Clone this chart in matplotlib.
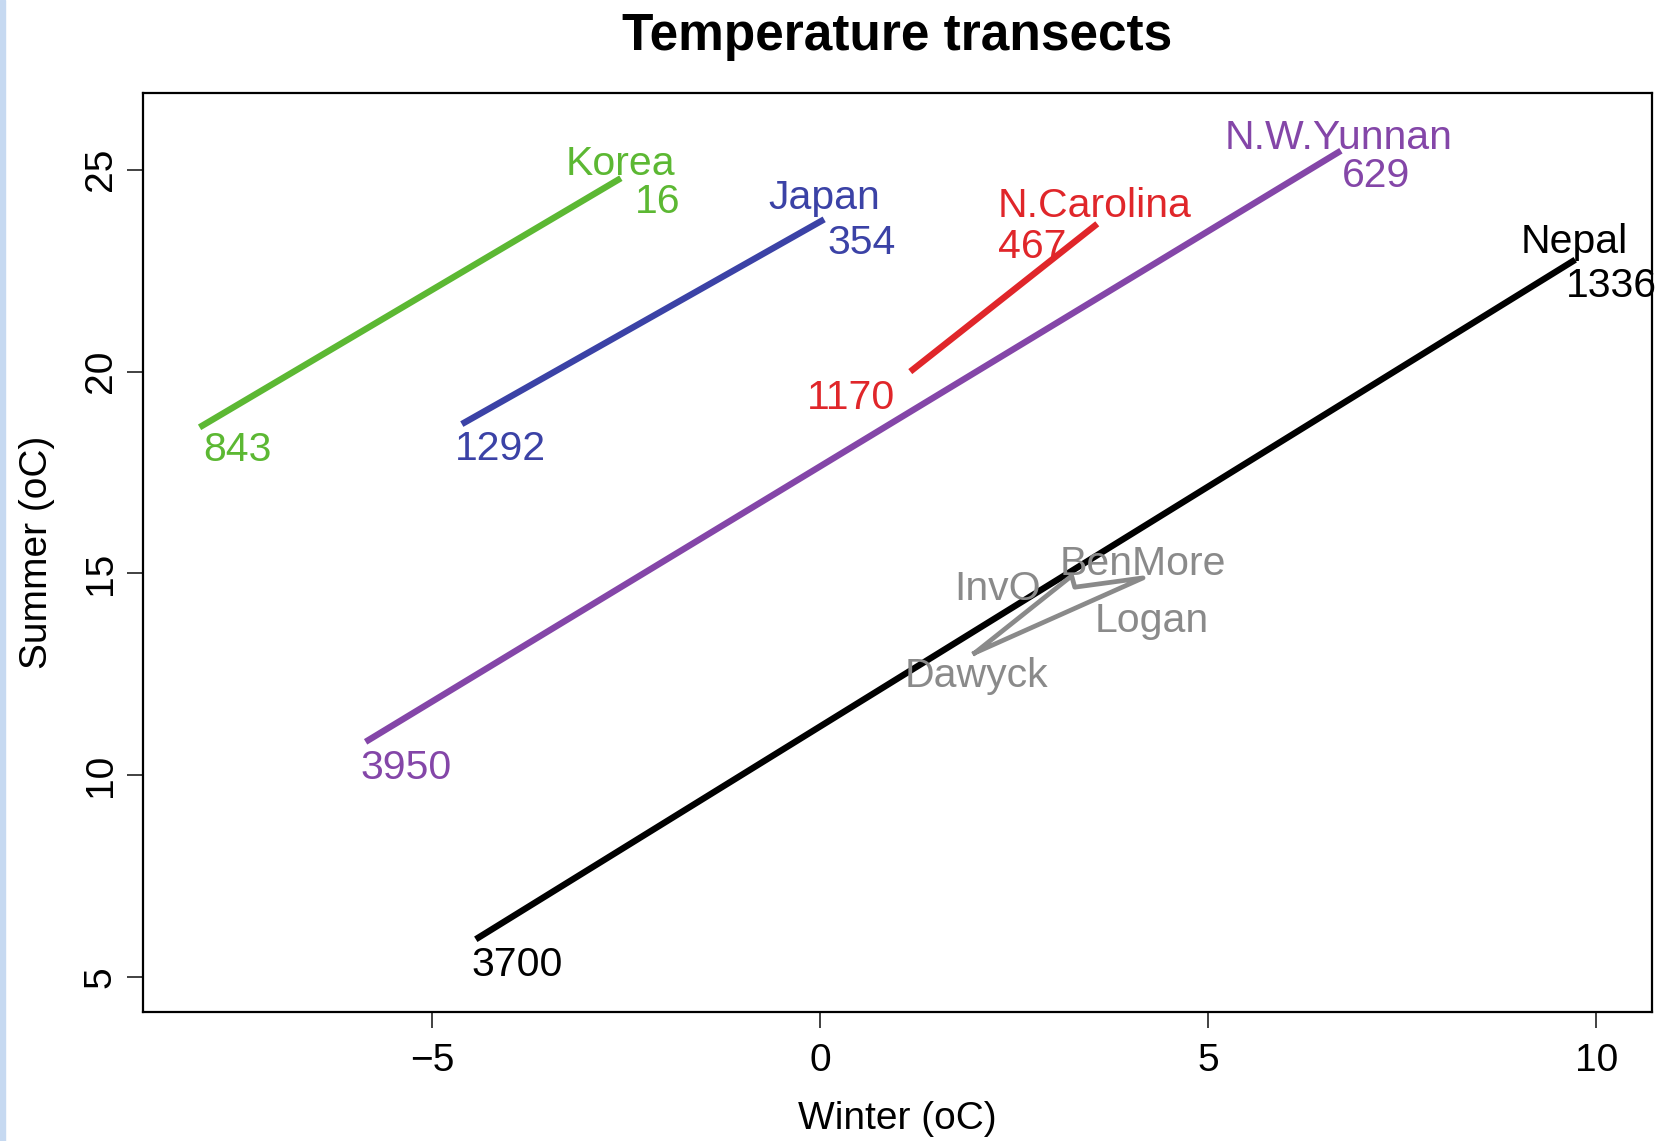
import matplotlib.pyplot as plt
from matplotlib.patches import Rectangle

plt.rcParams['font.family'] = ['Liberation Sans', 'DejaVu Sans']

# transects: cold (high elevation) end and warm (low elevation) end
regions = ['Korea', 'Japan', 'N.Carolina', 'N.W.Yunnan', 'Nepal']
colours = ['#5cb833', '#3b42a6', '#e0262a', '#8446a8', '#000000']
winter_cold = [-8.0, -4.62, 1.16, -5.86, -4.44]
summer_cold = [18.62, 18.70, 20.0, 10.83, 5.94]
elev_cold = ['843', '1292', '1170', '3950', '3700']
winter_warm = [-2.57, 0.05, 3.57, 6.71, 9.73]
summer_warm = [24.79, 23.77, 23.66, 25.47, 22.77]
elev_warm = ['16', '354', '467', '629', '1336']

# Scottish gardens
sites = ['Dawyck', 'InvO', 'Logan', 'BenMore']
winter_sc = [1.99, 3.24, 3.28, 4.16]
summer_sc = [13.03, 14.94, 14.66, 14.89]

# label placement (offset points, alignment)
name_off = [(0, 2.3), (0, 7.6), (-2, 4.6), (-2, 1.5), (-1, 5)]
cold_off = [(2.7, -3, 'left'), (-5, -4, 'left'), (-11, -5.3, 'right'),
            (-3.4, -5.3, 'left'), (-3.4, -4.6, 'left')]
warm_off = [(10, -3.8, 'left'), (2.7, -3, 'left'), (-22, -3, 'right'),
            (1, -4.6, 'left'), (-7, -5.3, 'left')]
site_off = [(1, -3, 'center', 'top'), (-22, -17, 'right', 'baseline'),
            (14.4, -10.7, 'left', 'top'), (0, 2, 'center', 'baseline')]

fig = plt.figure(figsize=(16.62, 11.41), dpi=100)
fig.patches.append(Rectangle((0, 0), 5 / 1662, 1, transform=fig.transFigure,
                             color='#c6d9f1', zorder=0))
ax = fig.add_axes([0.0860, 0.1131, 0.9080, 0.8054])

fs = 29.5
for i, name in enumerate(regions):
    c = colours[i]
    ax.plot([winter_cold[i], winter_warm[i]], [summer_cold[i], summer_warm[i]],
            color=c, lw=4.6, solid_capstyle='butt')
    ax.annotate(name, (winter_warm[i], summer_warm[i]), xytext=name_off[i],
                textcoords='offset points', ha='center', va='baseline',
                color=c, fontsize=fs)
    dx, dy, ha = cold_off[i]
    ax.annotate(elev_cold[i], (winter_cold[i], summer_cold[i]), xytext=(dx, dy),
                textcoords='offset points', ha=ha, va='top', color=c, fontsize=fs)
    dx, dy, ha = warm_off[i]
    ax.annotate(elev_warm[i], (winter_warm[i], summer_warm[i]), xytext=(dx, dy),
                textcoords='offset points', ha=ha, va='top', color=c, fontsize=fs)

gray = '#8a8a8a'
ax.plot(winter_sc + winter_sc[:1], summer_sc + summer_sc[:1], color=gray, lw=3.4)
for i, s in enumerate(sites):
    dx, dy, ha, va = site_off[i]
    ax.annotate(s, (winter_sc[i], summer_sc[i]), xytext=(dx, dy),
                textcoords='offset points', ha=ha, va=va, color=gray, fontsize=fs)

ax.set_xlim(-8.73, 10.72)
ax.set_ylim(4.14, 26.90)
ax.set_xticks([-5, 0, 5, 10])
ax.set_xticklabels(['\u22125', '0', '5', '10'])
ax.set_yticks([5, 10, 15, 20, 25])
for sp in ax.spines.values():
    sp.set_linewidth(1.6)
ax.tick_params(length=11.5, width=1.3, labelsize=28, color='#333333')
ax.tick_params(axis='x', pad=11)
ax.tick_params(axis='y', pad=6)
for lab in ax.get_yticklabels():
    lab.set_rotation(90)
    lab.set_va('center')

ax.set_xlabel('Winter (oC)', fontsize=28, labelpad=16)
ax.set_ylabel('Summer (oC)', fontsize=28, labelpad=20)
ax.set_title('Temperature transects', fontsize=37, fontweight='bold', pad=31)

plt.savefig('out.png', dpi=100)
